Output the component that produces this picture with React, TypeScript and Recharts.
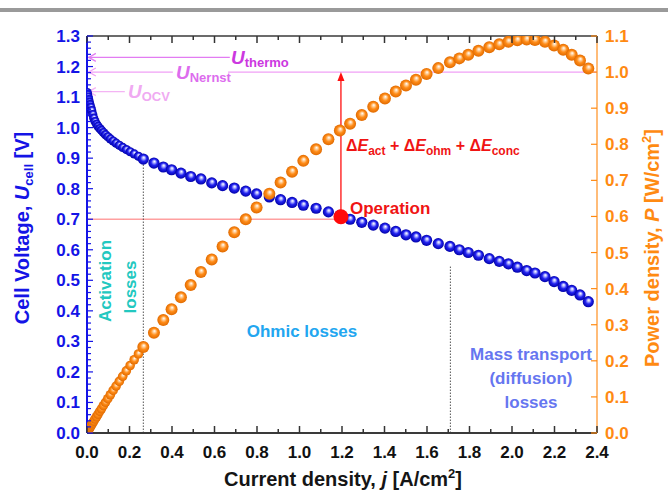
import React from 'react';
import { ComposedChart, Scatter, XAxis, YAxis, ReferenceLine } from 'recharts';

// polarisation curve
const currentDensity = [
  0.001, 0.003, 0.005, 0.008, 0.011, 0.014, 0.018, 0.022, 0.027, 0.032, 0.038, 0.045, 0.052, 0.06,
  0.068, 0.077, 0.087, 0.098, 0.11, 0.123, 0.137, 0.152, 0.168, 0.185, 0.203, 0.222, 0.242, 0.265,
  0.315, 0.359, 0.398, 0.442, 0.488, 0.536, 0.587, 0.638, 0.693, 0.747, 0.798, 0.858, 0.911, 0.965,
  1.018, 1.078, 1.136, 1.19,
  1.238, 1.293, 1.347, 1.402, 1.453, 1.501, 1.548, 1.598, 1.653, 1.708, 1.752, 1.794, 1.842, 1.893,
  1.94, 1.983, 2.025, 2.069, 2.108, 2.155, 2.198, 2.241, 2.281, 2.32, 2.359,
];
const cellVoltage = [
  1.115, 1.108, 1.1, 1.092, 1.083, 1.075, 1.066, 1.056, 1.043, 1.031, 1.02, 1.011, 1.004, 0.997,
  0.991, 0.984, 0.977, 0.97, 0.963, 0.956, 0.949, 0.942, 0.935, 0.928, 0.921, 0.914, 0.906, 0.897,
  0.884, 0.871, 0.862, 0.851, 0.84, 0.832, 0.819, 0.81, 0.802, 0.792, 0.783, 0.773, 0.764, 0.755,
  0.746, 0.736, 0.724, 0.713,
  0.7, 0.69, 0.681, 0.671, 0.66, 0.649, 0.642, 0.631, 0.62, 0.611, 0.6, 0.591, 0.582, 0.571,
  0.562, 0.554, 0.543, 0.532, 0.524, 0.512, 0.496, 0.48, 0.467, 0.452, 0.43,
];
const powerDensity = [
  0.001, 0.003, 0.006, 0.009, 0.012, 0.015, 0.019, 0.023, 0.028, 0.033, 0.039, 0.045, 0.052, 0.06,
  0.067, 0.076, 0.085, 0.095, 0.106, 0.118, 0.13, 0.143, 0.157, 0.172, 0.187, 0.203, 0.219, 0.238,
  0.278, 0.313, 0.343, 0.376, 0.41, 0.446, 0.481, 0.517, 0.556, 0.592, 0.625, 0.663, 0.694, 0.724,
  0.754, 0.786, 0.814, 0.838,
  0.857, 0.881, 0.904, 0.927, 0.946, 0.963, 0.979, 0.995, 1.011, 1.027, 1.038, 1.048, 1.059, 1.069,
  1.077, 1.084, 1.088, 1.09, 1.089, 1.084, 1.074, 1.062, 1.048, 1.032, 1.01,
];

const operationPoint = [{ x: 1.195, y: 0.708 }];
const operationVoltage = 0.7;
const uThermo = 1.23;
const uNernst = 1.182;
const uOcv = 1.118;
const activationLimit = 0.265;
const massTransportLimit = 1.71;

const xTickLabels = ['0.0', '0.2', '0.4', '0.6', '0.8', '1.0', '1.2', '1.4', '1.6', '1.8', '2.0', '2.2', '2.4'];
const leftTickLabels = ['0.0', '0.1', '0.2', '0.3', '0.4', '0.5', '0.6', '0.7', '0.8', '0.9', '1.0', '1.1', '1.2', '1.3'];
const rightTickLabels = ['0.0', '0.1', '0.2', '0.3', '0.4', '0.5', '0.6', '0.7', '0.8', '0.9', '1.0', '1.1'];

const voltageData = currentDensity.map((x, i) => ({ x, y: cellVoltage[i] }));
const powerData = currentDensity.map((x, i) => ({ x, y: powerDensity[i] }));

// major + minor tick positions
const xTicks = Array.from({ length: 25 }, (_, i) => +(i * 0.1).toFixed(2));
const leftTicks = Array.from({ length: 66 }, (_, i) => +(i * 0.02).toFixed(2));
const rightTicks = rightTickLabels.map(Number);

const FONT = '"Liberation Sans", Arial, sans-serif';
const BLUE = '#1414e6';
const ORANGE = '#ff8a12';

const BottomTick = (props: any) => {
  const { x, y, payload } = props;
  const k = Math.round(payload.value * 10);
  const major = k % 2 === 0;
  return (
    <g>
      <line x1={x} x2={x} y1={y} y2={y - (major ? 7 : 4)} stroke="#333" strokeWidth={1.5} />
      {major && (
        <text x={x} y={y + 25} textAnchor="middle" fontSize={17} fontWeight="bold" fill="#111" fontFamily={FONT}>
          {xTickLabels[k / 2]}
        </text>
      )}
    </g>
  );
};

const TopTick = (props: any) => {
  const { x, y, payload } = props;
  const major = Math.round(payload.value * 10) % 2 === 0;
  return <line x1={x} x2={x} y1={y} y2={y + (major ? 7 : 4)} stroke="#333" strokeWidth={1.5} />;
};

const LeftTick = (props: any) => {
  const { x, y, payload } = props;
  const k = Math.round(payload.value * 50);
  const major = k % 5 === 0;
  return (
    <g>
      <line x1={x} x2={x + (major ? 6 : 4)} y1={y} y2={y} stroke={BLUE} strokeWidth={1.2} />
      {major && (
        <text x={x - 7} y={y + 6} textAnchor="end" fontSize={17} fontWeight="bold" fill={BLUE} fontFamily={FONT}>
          {leftTickLabels[k / 5]}
        </text>
      )}
    </g>
  );
};

const RightTick = (props: any) => {
  const { x, y, payload } = props;
  const k = Math.round(payload.value * 10);
  return (
    <g>
      <line x1={x} x2={x - 6} y1={y} y2={y} stroke={ORANGE} strokeWidth={1.2} />
      <text x={x + 8} y={y + 6} textAnchor="start" fontSize={17} fontWeight="bold" fill={ORANGE} fontFamily={FONT}>
        {rightTickLabels[k]}
      </text>
    </g>
  );
};

const blueBall = (p: any) => (
  <circle cx={p.cx} cy={p.cy} r={p.payload.x < 0.25 ? 4.6 : 5.6} fill="url(#ballBlue)" />
);
const orangeBall = (p: any) => (
  <circle cx={p.cx} cy={p.cy} r={p.payload.x < 0.25 ? 4.8 : 6} fill="url(#ballOrange)" />
);
const redDot = (p: any) => <circle cx={p.cx} cy={p.cy} r={7.5} fill="#ff0a0a" />;

const arrowLine = (color: string) => (p: any) => (
  <g>
    <line x1={p.x1} y1={p.y1} x2={p.x2} y2={p.y2} stroke={color} strokeWidth={1.3} />
    <polyline
      points={`${p.x1 + 8},${p.y1 - 4} ${p.x1 + 1},${p.y1} ${p.x1 + 8},${p.y1 + 4}`}
      fill="none"
      stroke={color}
      strokeWidth={1.3}
    />
  </g>
);

const upArrow = (p: any) => {
  const top = Math.min(p.y1, p.y2);
  const bottom = Math.max(p.y1, p.y2);
  return (
    <g>
      <line x1={p.x1} y1={bottom} x2={p.x1} y2={top + 6} stroke="#ff1010" strokeWidth={1.3} />
      <polygon points={`${p.x1},${top} ${p.x1 - 3.5},${top + 9} ${p.x1 + 3.5},${top + 9}`} fill="#ff1010" />
    </g>
  );
};

export default function App() {
  return (
    <div style={{ position: 'absolute', left: 0, top: 0, width: 668, height: 495, background: '#fff', fontFamily: FONT }}>
      <svg width={0} height={0} style={{ position: 'absolute' }}>
        <defs>
          <radialGradient id="ballBlue" cx="50%" cy="50%" r="50%" fx="55%" fy="35%">
            <stop offset="0%" stopColor="#ffffff" />
            <stop offset="22%" stopColor="#b4b8ff" />
            <stop offset="55%" stopColor="#2323f0" />
            <stop offset="100%" stopColor="#0000a8" />
          </radialGradient>
          <radialGradient id="ballOrange" cx="50%" cy="50%" r="50%" fx="55%" fy="35%">
            <stop offset="0%" stopColor="#ffffff" />
            <stop offset="22%" stopColor="#ffd2a0" />
            <stop offset="55%" stopColor="#ff8c18" />
            <stop offset="100%" stopColor="#e06a00" />
          </radialGradient>
        </defs>
      </svg>
      <div style={{ position: 'absolute', left: 0, top: 8, width: 668, height: 4, background: '#9a9a9a' }} />

      <ComposedChart width={668} height={495} margin={{ top: 6, right: 21, bottom: 12, left: 27 }}>
        <XAxis
          xAxisId="b"
          type="number"
          dataKey="x"
          domain={[0, 2.4]}
          ticks={xTicks}
          interval={0}
          allowDataOverflow
          height={50}
          tickSize={0}
          tickMargin={0}
          tickLine={false}
          axisLine={{ stroke: '#3a3a3a', strokeWidth: 2 }}
          tick={<BottomTick />}
        />
        <XAxis
          xAxisId="t"
          orientation="top"
          type="number"
          dataKey="x"
          domain={[0, 2.4]}
          ticks={xTicks}
          interval={0}
          allowDataOverflow
          height={30}
          tickSize={0}
          tickMargin={0}
          tickLine={false}
          axisLine={{ stroke: '#3a3a3a', strokeWidth: 1.5 }}
          tick={<TopTick />}
        />
        <YAxis
          yAxisId="l"
          type="number"
          dataKey="y"
          domain={[0, 1.3]}
          ticks={leftTicks}
          interval={0}
          allowDataOverflow
          width={60}
          tickSize={0}
          tickMargin={0}
          tickLine={false}
          axisLine={{ stroke: BLUE, strokeWidth: 2 }}
          tick={<LeftTick />}
        />
        <YAxis
          yAxisId="r"
          orientation="right"
          type="number"
          dataKey="y"
          domain={[0, 1.1]}
          ticks={rightTicks}
          interval={0}
          allowDataOverflow
          width={50}
          tickSize={0}
          tickMargin={0}
          tickLine={false}
          axisLine={{ stroke: '#ffa64d', strokeWidth: 1.5 }}
          tick={<RightTick />}
        />

        <ReferenceLine
          xAxisId="b"
          yAxisId="l"
          segment={[{ x: 0.004, y: uThermo }, { x: 0.672, y: uThermo }]}
          shape={arrowLine('#e27cf2')}
        />
        <ReferenceLine
          xAxisId="b"
          yAxisId="l"
          segment={[{ x: 0.004, y: uNernst }, { x: 0.404, y: uNernst }]}
          shape={arrowLine('#f0a0f6')}
        />
        <ReferenceLine
          xAxisId="b"
          yAxisId="l"
          segment={[{ x: 0.664, y: uNernst }, { x: 2.4, y: uNernst }]}
          stroke="#f0a0f6"
          strokeWidth={1.3}
        />
        <ReferenceLine
          xAxisId="b"
          yAxisId="l"
          segment={[{ x: 0.004, y: uOcv }, { x: 0.178, y: uOcv }]}
          shape={arrowLine('#f4b4f4')}
        />
        <ReferenceLine
          xAxisId="b"
          yAxisId="l"
          segment={[{ x: 0, y: operationVoltage }, { x: operationPoint[0].x, y: operationVoltage }]}
          stroke="#ffa0a0"
          strokeWidth={1.3}
        />
        <ReferenceLine
          xAxisId="b"
          yAxisId="l"
          segment={[{ x: activationLimit, y: 0 }, { x: activationLimit, y: 0.885 }]}
          stroke="#555"
          strokeDasharray="1.5 1.5"
          strokeWidth={1}
        />
        <ReferenceLine
          xAxisId="b"
          yAxisId="l"
          segment={[{ x: massTransportLimit, y: 0 }, { x: massTransportLimit, y: 0.545 }]}
          stroke="#555"
          strokeDasharray="1.5 1.5"
          strokeWidth={1}
        />
        <ReferenceLine
          xAxisId="b"
          yAxisId="l"
          segment={[{ x: operationPoint[0].x, y: operationPoint[0].y }, { x: operationPoint[0].x, y: uNernst }]}
          shape={upArrow}
        />

        <Scatter xAxisId="b" yAxisId="l" data={voltageData} shape={blueBall} isAnimationActive={false} />
        <Scatter xAxisId="b" yAxisId="r" data={powerData} shape={orangeBall} isAnimationActive={false} />
        <Scatter xAxisId="b" yAxisId="l" data={operationPoint} shape={redDot} isAnimationActive={false} />
      </ComposedChart>

      <svg
        width={668}
        height={495}
        style={{ position: 'absolute', left: 0, top: 0, pointerEvents: 'none' }}
        fontFamily={FONT}
        fontWeight="bold"
      >
        {/* axis titles */}
        <text x={343} y={486} textAnchor="middle" fontSize={20} fill="#151515">
          Current density, <tspan fontStyle="italic">j</tspan> [A/cm
          <tspan fontSize={13} dy={-8}>2</tspan>
          <tspan dy={8}>]</tspan>
        </text>
        <text x={29} y={228} transform="rotate(-90 29 228)" textAnchor="middle" fontSize={20} fill={BLUE}>
          Cell Voltage, <tspan fontStyle="italic">U</tspan>
          <tspan fontSize={13} dy={4}>cell</tspan>
          <tspan dy={-4}> [V]</tspan>
        </text>
        <text x={659} y={248} transform="rotate(-90 659 248)" textAnchor="middle" fontSize={20} fill={ORANGE}>
          Power density, <tspan fontStyle="italic">P</tspan> [W/cm
          <tspan fontSize={13} dy={-8}>2</tspan>
          <tspan dy={8}>]</tspan>
        </text>

        {/* voltage levels */}
        <text x={231} y={64} fontSize={19} fill="#cc38e0">
          <tspan fontStyle="italic">U</tspan>
          <tspan fontSize={13} dy={3}>thermo</tspan>
        </text>
        <text x={176} y={79} fontSize={19} fill="#dd6cee">
          <tspan fontStyle="italic">U</tspan>
          <tspan fontSize={13} dy={3}>Nernst</tspan>
        </text>
        <text x={128} y={98} fontSize={19} fill="#f0aaf2">
          <tspan fontStyle="italic">U</tspan>
          <tspan fontSize={13} dy={3}>OCV</tspan>
        </text>

        {/* operation */}
        <text x={346} y={151} fontSize={16} fill="#f01414">
          Δ<tspan fontStyle="italic">E</tspan>
          <tspan fontSize={12} dy={4}>act</tspan>
          <tspan dy={-4}> + Δ</tspan>
          <tspan fontStyle="italic">E</tspan>
          <tspan fontSize={12} dy={4}>ohm</tspan>
          <tspan dy={-4}> + Δ</tspan>
          <tspan fontStyle="italic">E</tspan>
          <tspan fontSize={12} dy={4}>conc</tspan>
        </text>
        <text x={350} y={214} fontSize={17} fill="#f01414">
          Operation
        </text>

        {/* loss regions */}
        <text x={111} y={281} transform="rotate(-90 111 281)" textAnchor="middle" fontSize={17} fill="#22c8c0">
          Activation
        </text>
        <text x={136} y={287} transform="rotate(-90 136 287)" textAnchor="middle" fontSize={17} fill="#22c8c0">
          losses
        </text>
        <text x={302} y={337} textAnchor="middle" fontSize={17} fill="#22a6f0">
          Ohmic losses
        </text>
        <text x={531} y={360} textAnchor="middle" fontSize={17} fill="#6676f0">
          Mass transport
        </text>
        <text x={531} y={384} textAnchor="middle" fontSize={17} fill="#6676f0">
          (diffusion)
        </text>
        <text x={531} y={408} textAnchor="middle" fontSize={17} fill="#6676f0">
          losses
        </text>
      </svg>
    </div>
  );
}
